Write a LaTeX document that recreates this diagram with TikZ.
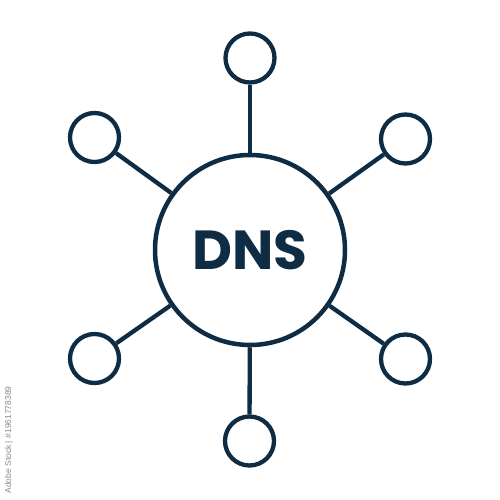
\documentclass[tikz,border=0pt]{standalone}
\usepackage{fontspec}
\setmainfont{Poppins}
\newfontfamily\wmfont{Liberation Sans}
\definecolor{navy}{HTML}{0E2C44}
\definecolor{wmgray}{HTML}{8A8A8A}
\begin{document}
\begin{tikzpicture}[x=1pt,y=-1pt,
  ring/.style={circle,draw=navy,line width=4.3pt,inner sep=0pt,minimum size=49pt},
  hub/.style={circle,draw=navy,line width=4.5pt,inner sep=0pt,minimum size=190pt,
     font=\fontsize{55}{55}\selectfont\bfseries,text=navy},
  link/.style={draw=navy,line width=4.3pt}]
\useasboundingbox (0,0) rectangle (500,500);
\fill[white] (0,0) rectangle (500,500);
\node[hub] (dns) at (250,250) {DNS};
\node[ring] (t)  at (250,58) {};
\node[ring] (tr) at (405.5,139) {};
\node[ring] (br) at (405.5,359) {};
\node[ring] (b)  at (249.5,441) {};
\node[ring] (bl) at (94.5,358.5) {};
\node[ring] (tl) at (94.5,137.5) {};
\foreach \n in {t,tr,br,b,bl,tl}{\draw[link] (\n) -- (dns);}
\node[rotate=90,font=\wmfont\fontsize{8.5}{9}\selectfont,text=wmgray,inner sep=0pt] (wm) at (9,440) {Adobe Stock | \#1961778389};
\end{tikzpicture}
\end{document}
